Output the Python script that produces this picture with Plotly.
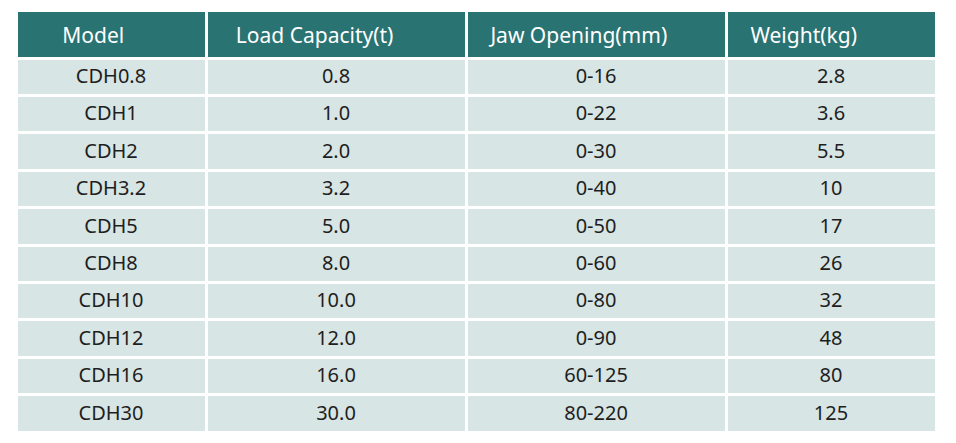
import plotly.graph_objects as go

# Table contents ------------------------------------------------------------
headers = ["Model", "Load Capacity(t)", "Jaw Opening(mm)", "Weight(kg)"]
header_indent = [7, 4, 3, 3]   # leading spaces so headers sit like the original

models = ["CDH0.8", "CDH1", "CDH2", "CDH3.2", "CDH5",
          "CDH8", "CDH10", "CDH12", "CDH16", "CDH30"]
load_capacity = ["0.8", "1.0", "2.0", "3.2", "5.0",
                 "8.0", "10.0", "12.0", "16.0", "30.0"]
jaw_opening = ["0-16", "0-22", "0-30", "0-40", "0-50",
               "0-60", "0-80", "0-90", "60-125", "80-220"]
weight = ["2.8", "3.6", "5.5", "10", "17", "26", "32", "48", "80", "125"]

HEADER_BG = "#2a7373"
BODY_BG = "#d7e5e4"
CLEAR = "rgba(0,0,0,0)"
W, H = 956, 443
COL_W = [190, 260, 260, 210]
HEAD_H, ROW_H = 48, 37.4

header_text = ["\u00a0" * n + h for n, h in zip(header_indent, headers)]
body_cols = [models, load_capacity, jaw_opening, weight]
blank_head = [""] * 4
blank_body = [[""] * len(models) for _ in range(4)]


def dom(top_px):
    # plotly puts the table ~10px right / 6px down of its domain; compensate
    return dict(x=[8 / W, 928 / W], y=[0, 1 - top_px / H])


# 1) the grid: fills and white rules, no text
grid = go.Table(
    domain=dom(2),
    columnwidth=COL_W,
    header=dict(values=blank_head, fill_color=HEADER_BG,
                line=dict(color="white", width=3), height=HEAD_H),
    cells=dict(values=blank_body, fill_color=BODY_BG,
               line=dict(color="white", width=3), height=ROW_H),
)

# 2) header labels, nudged down (table text is top-aligned)
head_labels = go.Table(
    domain=dom(11),
    columnwidth=COL_W,
    header=dict(values=header_text, fill_color=CLEAR,
                line=dict(color=CLEAR, width=0), align="left", height=HEAD_H,
                font=dict(family="Noto Sans", size=21, color="white")),
)

# 3) body values, nudged down a touch
body_labels = go.Table(
    domain=dom(4),
    columnwidth=COL_W,
    header=dict(values=blank_head, fill_color=CLEAR,
                line=dict(color=CLEAR, width=0), height=HEAD_H),
    cells=dict(values=body_cols, fill_color=CLEAR,
               line=dict(color=CLEAR, width=0), align="center", height=ROW_H,
               font=dict(family="Noto Sans", size=20, color="#1e1e1e")),
)

fig = go.Figure([grid, body_labels, head_labels])

fig.update_layout(
    width=W, height=H,
    margin=dict(l=0, r=0, t=0, b=0),
    paper_bgcolor="white",
)

fig.write_html("out.html")
